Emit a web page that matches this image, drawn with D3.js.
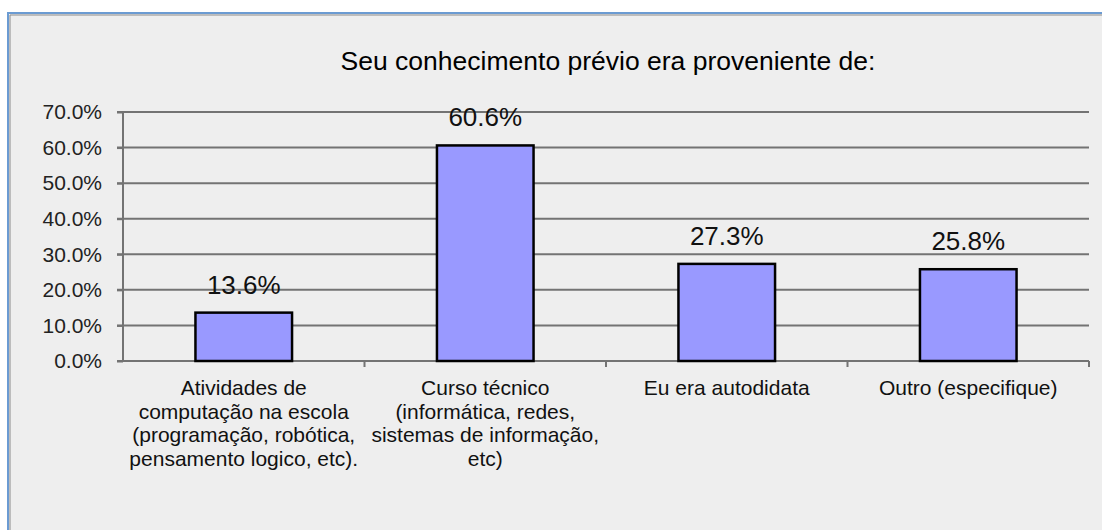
<!DOCTYPE html>
<html>
<head>
<meta charset="utf-8">
<script src="https://cdn.jsdelivr.net/npm/d3@7"></script>
<style>
  body { margin: 0; background: #fff; }
  svg { display: block; font-family: "Liberation Sans", Arial, sans-serif; }
</style>
</head>
<body>
<div id="chart"></div>
<script>
const categories = ["c1", "c2", "c3", "c4"];
const categoryLines = [
    ["Atividades de", "computação na escola", "(programação, robótica,", "pensamento logico, etc)."],
    ["Curso técnico", "(informática, redes,", "sistemas de informação,", "etc)"],
    ["Eu era autodidata"],
    ["Outro (especifique)"]
];
const values = [13.6, 60.6, 27.3, 25.8];
const yTicks = [0, 10, 20, 30, 40, 50, 60, 70];
const title = "Seu conhecimento prévio era proveniente de:";

const width = 1102;
const height = 530;
const margin = { left: 123, right: 13, top: 112, bottom: 169 };

const svg = d3.select("#chart")
    .append("svg")
    .attr("width", width)
    .attr("height", height);

// frame
svg.append("rect")
    .attr("x", 8).attr("y", 13)
    .attr("width", width).attr("height", height)
    .attr("fill", "#eeeeee")
    .attr("stroke", "#6b9bd2")
    .attr("stroke-width", 2);
svg.append("path")
    .attr("d", `M10,${height} V15 H${width}`)
    .attr("fill", "none")
    .attr("stroke", "#8a8a8a")
    .attr("stroke-width", 1);

const x = d3.scaleBand()
    .domain(categories)
    .range([margin.left, width - margin.right])
    .paddingInner(0.6)
    .paddingOuter(0.3);

const y = d3.scaleLinear()
    .domain([0, 70])
    .range([height - margin.bottom, margin.top]);

svg.append("text")
    .attr("x", 608)
    .attr("y", 70)
    .attr("text-anchor", "middle")
    .attr("font-size", 26.5)
    .attr("fill", "#000")
    .text(title);

// gridlines
svg.append("g")
    .selectAll("line")
    .data(yTicks.slice(1))
    .enter()
    .append("line")
    .attr("x1", margin.left - 6)
    .attr("x2", width - margin.right)
    .attr("y1", d => y(d))
    .attr("y2", d => y(d))
    .attr("stroke", "#737373")
    .attr("stroke-width", 2);

// y axis
const yAxis = svg.append("g")
    .attr("transform", `translate(${margin.left},0)`)
    .call(d3.axisLeft(y).tickValues(yTicks).tickSize(6).tickPadding(15).tickFormat(d => d.toFixed(1) + "%"));
yAxis.select(".domain").attr("stroke", "#737373").attr("stroke-width", 2).attr("d", `M0,${y(0)}V${y(70)}`);
yAxis.selectAll(".tick line").attr("stroke", "#737373").attr("stroke-width", 2);
yAxis.selectAll(".tick text")
    .attr("font-size", 21)
    .attr("font-family", "Liberation Sans, Arial, sans-serif")
    .attr("fill", "#222");

// x axis baseline with boundary ticks
const bounds = d3.range(categories.length + 1).map(i => margin.left + i * (width - margin.right - margin.left) / categories.length);
svg.append("line")
    .attr("x1", margin.left - 6).attr("x2", width - margin.right)
    .attr("y1", y(0)).attr("y2", y(0))
    .attr("stroke", "#737373").attr("stroke-width", 2);
svg.append("g")
    .selectAll("line")
    .data(bounds.slice(1))
    .enter()
    .append("line")
    .attr("x1", d => d).attr("x2", d => d)
    .attr("y1", y(0)).attr("y2", y(0) + 6)
    .attr("stroke", "#737373").attr("stroke-width", 2);

// bars
svg.append("g")
    .selectAll("rect")
    .data(values)
    .enter()
    .append("rect")
    .attr("x", (d, i) => x(categories[i]))
    .attr("y", d => y(d))
    .attr("width", x.bandwidth())
    .attr("height", d => y(0) - y(d))
    .attr("fill", "#9999ff")
    .attr("stroke", "#000")
    .attr("stroke-width", 2.5);

// value labels
svg.append("g")
    .selectAll("text")
    .data(values)
    .enter()
    .append("text")
    .attr("x", (d, i) => x(categories[i]) + x.bandwidth() / 2)
    .attr("y", d => y(d) - 19)
    .attr("text-anchor", "middle")
    .attr("font-size", 26)
    .attr("fill", "#111")
    .text(d => d.toFixed(1) + "%");

// category labels
const labels = svg.append("g")
    .selectAll("text")
    .data(categoryLines)
    .enter()
    .append("text")
    .attr("text-anchor", "middle")
    .attr("font-size", 21)
    .attr("fill", "#111");
labels.selectAll("tspan")
    .data((d, i) => d.map(line => ({ line, i })))
    .enter()
    .append("tspan")
    .attr("x", d => x(categories[d.i]) + x.bandwidth() / 2)
    .attr("y", (d, j) => y(0) + 34 + j * 23.5)
    .text(d => d.line);
</script>
</body>
</html>
